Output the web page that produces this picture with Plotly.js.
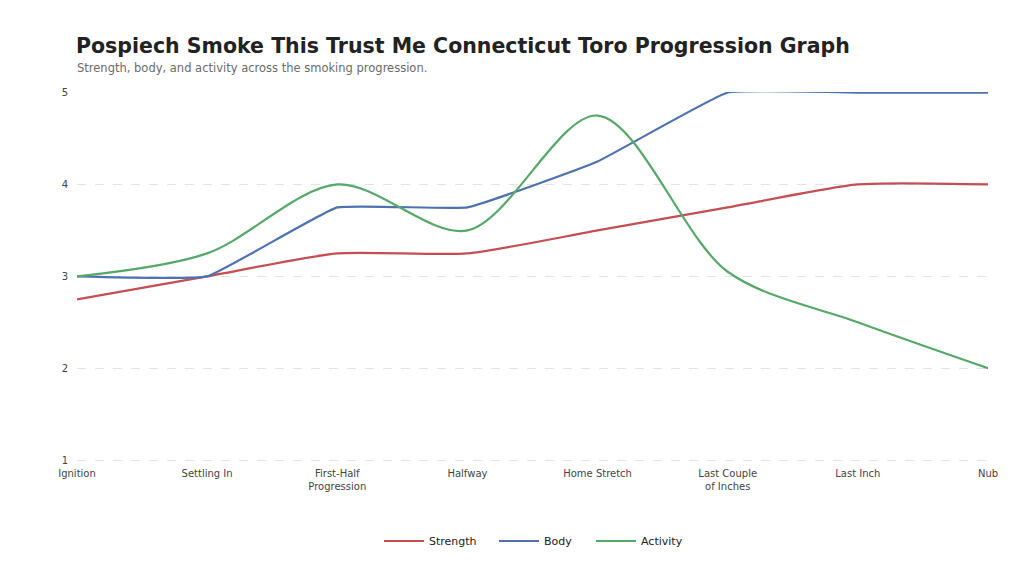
<!DOCTYPE html>
<html>
<head>
<meta charset="utf-8">
<script src="https://cdn.plot.ly/plotly-3.0.1.min.js"></script>
<style>
  html, body { margin: 0; padding: 0; background: #fff; }
  #chart { width: 1024px; height: 576px; }
</style>
</head>
<body>
<div id="chart"></div>
<script>
const stages = ["Ignition", "Settling In", "First-Half<br>Progression", "Halfway",
  "Home Stretch", "Last Couple<br>of Inches", "Last Inch", "Nub"];
const strength = [2.75, 3, 3.25, 3.25, 3.5, 3.75, 4, 4];
const body = [3, 3, 3.75, 3.75, 4.25, 5, 5, 5];
const activity = [3, 3.25, 4, 3.5, 4.75, 3.05, 2.5, 2];
const yTicks = [1, 2, 3, 4, 5];

// spline smoothing per series, kept low where plateaus would overshoot
function makeTrace(name, values, color, smooth, legendId) {
  return {
    type: "scatter",
    mode: "lines",
    name: name,
    legend: legendId,
    x: stages,
    y: values,
    line: { color: color, width: 2.2, shape: "spline", smoothing: smooth },
    hoverinfo: "skip",
  };
}

// one legend box per series so the spacing can follow the reference
function makeLegend(left) {
  return {
    orientation: "h",
    x: (left - 77) / 911,
    xanchor: "left",
    y: (462 - 541) / 370,
    yanchor: "middle",
    font: { size: 11, color: "#222222" },
    itemwidth: 40,
  };
}

let data = [
  makeTrace("Strength", strength, "#c44e52", 0.6, "legend"),
  makeTrace("Body", body, "#4c72b0", 0.3, "legend2"),
  makeTrace("Activity", activity, "#55a868", 0.9, "legend3"),
];

let layout = {
  width: 1024,
  height: 576,
  paper_bgcolor: "#ffffff",
  plot_bgcolor: "#ffffff",
  font: { family: "DejaVu Sans, sans-serif", color: "#444444", size: 10 },
  margin: { l: 77, r: 36, t: 92, b: 114 },
  title: {
    text: "<b>Pospiech Smoke This Trust Me Connecticut Toro Progression Graph</b>",
    font: { family: "DejaVu Sans, sans-serif", size: 20.5, color: "#222222" },
    xref: "container",
    yref: "container",
    x: 76 / 1024,
    xanchor: "left",
    y: 1 - 46 / 576,
    yanchor: "middle",
  },
  annotations: [
    {
      text: "Strength, body, and activity across the smoking progression.",
      xref: "paper",
      yref: "paper",
      x: -2 / 911,
      y: 1 + 24 / 370,
      xanchor: "left",
      yanchor: "middle",
      showarrow: false,
      font: { size: 11.5, color: "#6b6b6b" },
    },
  ],
  xaxis: {
    type: "category",
    range: [0, 7],
    showgrid: false,
    zeroline: false,
    showline: false,
    ticks: "",
    ticklabelstandoff: 4,
    tickfont: { size: 10, color: "#444444" },
    fixedrange: true,
  },
  yaxis: {
    range: [0.98, 5.006],
    tickvals: yTicks,
    showgrid: true,
    gridcolor: "#e3e3e3",
    griddash: "dash",
    gridwidth: 1,
    zeroline: false,
    showline: false,
    ticks: "",
    ticklabelstandoff: 8,
    tickfont: { size: 10, color: "#444444" },
    fixedrange: true,
  },
  showlegend: true,
  legend: makeLegend(379),
  legend2: makeLegend(494),
  legend3: makeLegend(591),
};

Plotly.newPlot("chart", data, layout, { displayModeBar: false, staticPlot: true });
</script>
</body>
</html>
